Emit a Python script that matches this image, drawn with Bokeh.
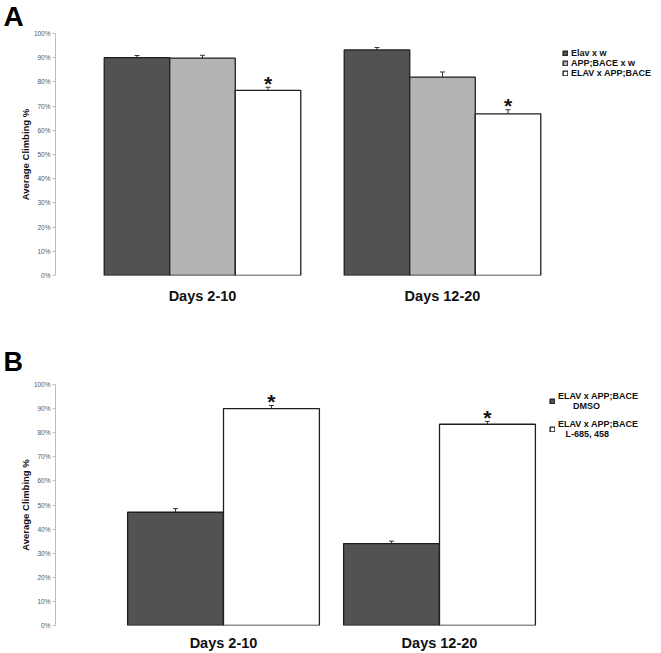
from bokeh.plotting import figure
from bokeh.models import (Range1d, FixedTicker, PrintfTickFormatter, ColumnDataSource,
                          Whisker, TeeHead, Legend, LegendItem)
from bokeh.layouts import column
from bokeh.embed import file_html
from bokeh.resources import INLINE
from bokeh.core.properties import value

# ---------------- data ----------------
periods = ["Days 2-10", "Days 12-20"]
y_ticks = [0, 10, 20, 30, 40, 50, 60, 70, 80, 90, 100]

a_series = ["Elav x w", "APP;BACE x w", "ELAV x APP;BACE"]
a_elav_w = [90.0, 93.2]
a_app_bace_w = [89.8, 82.0]
a_elav_app_bace = [76.5, 66.8]
a_err_elav_w = [0.9, 1.0]
a_err_app_bace_w = [1.2, 2.1]
a_err_elav_app_bace = [1.3, 1.7]
a_significant = [False, False, True]

b_series = ["ELAV x APP;BACE\n\u00a0\u00a0\u00a0\u00a0\u00a0\u00a0DMSO",
            "ELAV x APP;BACE\n\u00a0\u00a0\u00a0L-685, 458"]
b_dmso = [47.0, 34.0]
b_l685458 = [90.0, 83.5]
b_err_dmso = [1.5, 1.0]
b_err_l685458 = [1.3, 1.2]
b_significant = [False, True]

COLORS_A = ["#525252", "#b4b4b4", "#ffffff"]
COLORS_B = ["#525252", "#ffffff"]
FONT = "Liberation Sans"

W = 661
LEFT = 55


def make_panel(letter, letter_size, letter_standoff, letter_valign, series, values, errors,
               colors, signif, height, top, bottom, unit_px, first_center_px, bar_frac,
               legend_pos, legend_font, legend_spacing, label_standoff):
    frame_w = W - LEFT
    start = -(first_center_px - LEFT) / unit_px
    end = start + frame_w / unit_px
    p = figure(width=W, height=height, output_backend="svg", toolbar_location=None,
               x_range=Range1d(start, end), y_range=Range1d(0, 100),
               min_border_left=LEFT, min_border_right=0,
               min_border_top=top, min_border_bottom=bottom)
    p.outline_line_color = None
    p.xgrid.visible = False
    p.ygrid.visible = False

    p.title.text = letter
    p.title.align = "left"
    p.title.offset = -52
    p.title.standoff = letter_standoff
    p.title.vertical_align = letter_valign
    p.title.text_font = FONT
    p.title.text_font_size = letter_size
    p.title.text_font_style = "bold"
    p.title.text_color = "#000000"

    n = len(series)
    items = []
    for si, name in enumerate(series):
        xs = [gi + (si - (n - 1) / 2) * bar_frac for gi in range(len(periods))]
        src = ColumnDataSource(dict(x=xs, top=values[si],
                                    upper=[v + e for v, e in zip(values[si], errors[si])],
                                    lower=[v - e for v, e in zip(values[si], errors[si])]))
        r = p.vbar(x="x", top="top", bottom=0, width=bar_frac, source=src,
                   fill_color=colors[si], line_color="#1e1e1e", line_width=1.3)
        items.append(LegendItem(label=name, renderers=[r]))
        w = Whisker(base="x", upper="upper", lower="lower", source=src,
                    dimension="height", line_color="#333333", line_width=1,
                    upper_head=TeeHead(size=5, line_color="#333333", line_width=1),
                    lower_head=TeeHead(size=5, line_color="#333333", line_width=1))
        p.add_layout(w)
        if signif[si]:
            p.text(x="x", y="upper", text=value("*"), source=src,
                   text_font=value(FONT), text_font_size="21px", text_font_style="bold",
                   text_align="center", text_baseline="alphabetic", y_offset=-4,
                   text_color="#111111")

    legend = Legend(items=items, location=legend_pos, padding=0, margin=0,
                    border_line_color=None, background_fill_alpha=0,
                    glyph_width=6, glyph_height=6, label_standoff=3,
                    label_height=6, label_width=10, spacing=legend_spacing,
                    label_text_font=FONT, label_text_font_size=legend_font,
                    label_text_font_style="bold", label_text_color="#111111")
    p.add_layout(legend, "center")

    xa = p.xaxis[0]
    xa.ticker = FixedTicker(ticks=list(range(len(periods))))
    xa.major_label_overrides = {i: lab for i, lab in enumerate(periods)}
    xa.axis_line_color = None
    xa.major_tick_line_color = None
    xa.minor_tick_line_color = None
    xa.major_label_standoff = label_standoff
    xa.major_label_text_font = FONT
    xa.major_label_text_font_size = "14.5px"
    xa.major_label_text_font_style = "bold"
    xa.major_label_text_color = "#111111"

    ya = p.yaxis[0]
    ya.ticker = FixedTicker(ticks=y_ticks)
    ya.formatter = PrintfTickFormatter(format="%d%%")
    ya.axis_line_color = "#bdbdbd"
    ya.major_tick_line_color = "#bdbdbd"
    ya.minor_tick_line_color = None
    ya.major_tick_out = 3
    ya.major_tick_in = 0
    ya.major_label_standoff = 2
    ya.major_label_text_font = FONT
    ya.major_label_text_font_size = "6.5px"
    ya.major_label_text_color = "#595959"
    ya.axis_label = "Average Climbing %"
    ya.axis_label_text_font = FONT
    ya.axis_label_text_font_size = "9.5px"
    ya.axis_label_text_font_style = "bold"
    ya.axis_label_text_color = "#111111"
    ya.axis_label_standoff = 0
    return p


pa = make_panel("A", "28px", 0, "top", a_series,
                [a_elav_w, a_app_bace_w, a_elav_app_bace],
                [a_err_elav_w, a_err_app_bace_w, a_err_elav_app_bace],
                COLORS_A, a_significant,
                height=320, top=33, bottom=45, unit_px=240, first_center_px=202,
                bar_frac=0.273, legend_pos=(507, 197), legend_font="9px",
                legend_spacing=-1, label_standoff=6)

pb = make_panel("B", "27px", 12, "top", b_series,
                [b_dmso, b_l685458],
                [b_err_dmso, b_err_l685458],
                COLORS_B, b_significant,
                height=333, top=64, bottom=27, unit_px=216, first_center_px=223,
                bar_frac=0.444, legend_pos=(494, 186), legend_font="9px",
                legend_spacing=8, label_standoff=3)

layout = column(pa, pb)
open("out.html", "w").write(file_html(layout, INLINE))
